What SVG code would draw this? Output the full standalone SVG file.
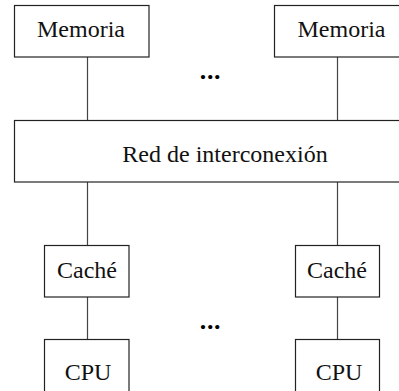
<svg xmlns="http://www.w3.org/2000/svg" width="399" height="391" viewBox="0 0 399 391">
<style>
.box{fill:#fff;stroke:#222;stroke-width:1.2}
.lbl{font-family:"Liberation Serif","Times New Roman",serif;font-size:24px;fill:#111;text-anchor:middle}
.dots{font-family:"Liberation Serif","Times New Roman",serif;font-size:26px;font-weight:bold;fill:#000;text-anchor:middle;letter-spacing:0.6px}
.conn{stroke:#444;stroke-width:1.2;fill:none}
</style>
<rect width="399" height="391" fill="#fff"/>
<g id="connectors">
<line class="conn" x1="87.5" y1="57" x2="87.5" y2="120"/>
<line class="conn" x1="337.5" y1="57" x2="337.5" y2="120"/>
<line class="conn" x1="87.5" y1="182" x2="87.5" y2="245"/>
<line class="conn" x1="337.5" y1="182" x2="337.5" y2="245"/>
<line class="conn" x1="87.5" y1="297" x2="87.5" y2="339"/>
<line class="conn" x1="337.5" y1="297" x2="337.5" y2="339"/>
</g>
<g id="mem1"><rect class="box" x="14.5" y="5.5" width="134.5" height="51.5"/><text class="lbl" x="81" y="37">Memoria</text></g>
<g id="mem2"><rect class="box" x="274.5" y="5.5" width="130" height="51.5"/><text class="lbl" x="341.5" y="37">Memoria</text></g>
<g id="dots1"><text class="dots" x="210.5" y="79">...</text></g>
<g id="red"><rect class="box" x="14.5" y="120.5" width="390" height="61.5"/><text class="lbl" x="225" y="162">Red de interconexión</text></g>
<g id="cache1"><rect class="box" x="44.5" y="245.5" width="84.5" height="51.5"/><text class="lbl" x="87" y="278">Caché</text></g>
<g id="cache2"><rect class="box" x="295.5" y="245.5" width="84" height="51.5"/><text class="lbl" x="337" y="278">Caché</text></g>
<g id="dots2"><text class="dots" x="210.5" y="329">...</text></g>
<g id="cpu1"><rect class="box" x="44.5" y="339.5" width="84.5" height="60"/><text class="lbl" x="88" y="380">CPU</text></g>
<g id="cpu2"><rect class="box" x="295.5" y="339.5" width="84" height="60"/><text class="lbl" x="339" y="380">CPU</text></g>
</svg>
